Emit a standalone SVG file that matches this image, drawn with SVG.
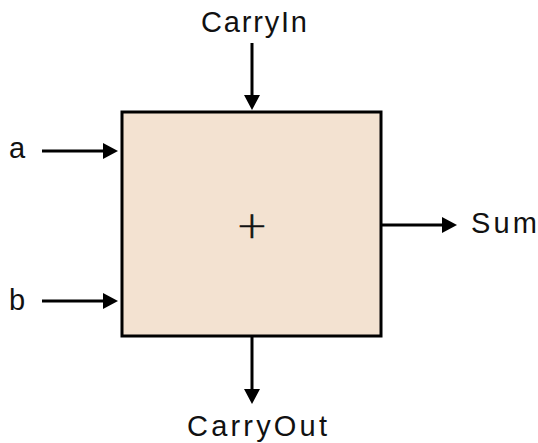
<svg xmlns="http://www.w3.org/2000/svg" width="538" height="443" viewBox="0 0 538 443">
<style>
.lbl{font-family:"Liberation Sans",Arial,sans-serif;font-size:29px;fill:#111}
.wire{stroke:#000;stroke-width:3;fill:none}
</style>
<defs>
<marker id="ah" viewBox="0 0 15 16" refX="7" refY="8" markerWidth="15" markerHeight="16" markerUnits="userSpaceOnUse" orient="auto">
<path d="M0,0 L15,8 L0,16 Z" fill="#000"/>
</marker>
</defs>
<rect width="538" height="443" fill="#fff"/>
<g id="adder">
<rect x="122" y="112" width="259" height="224" fill="#F3E2D1" stroke="#000" stroke-width="3"/>
<text x="252" y="237.5" text-anchor="middle" style="font-family:'DejaVu Sans',sans-serif;font-weight:200;font-size:38px;fill:#111;stroke:#111;stroke-width:0.7">+</text>
</g>
<g id="connectors">
<line class="wire" x1="252" y1="43" x2="252" y2="102" marker-end="url(#ah)"/>
<line class="wire" x1="42" y1="151" x2="110" y2="151" marker-end="url(#ah)"/>
<line class="wire" x1="42" y1="301" x2="110" y2="301" marker-end="url(#ah)"/>
<line class="wire" x1="382" y1="225" x2="449" y2="225" marker-end="url(#ah)"/>
<line class="wire" x1="252" y1="337" x2="252" y2="396" marker-end="url(#ah)"/>
</g>
<g id="labels">
<text class="lbl" x="201" y="32" textLength="106" lengthAdjust="spacing">CarryIn</text>
<text class="lbl" x="9" y="158">a</text>
<text class="lbl" x="9" y="310">b</text>
<text class="lbl" x="471" y="233" textLength="66" lengthAdjust="spacing">Sum</text>
<text class="lbl" x="187" y="436" textLength="140" lengthAdjust="spacing">CarryOut</text>
</g>
</svg>
